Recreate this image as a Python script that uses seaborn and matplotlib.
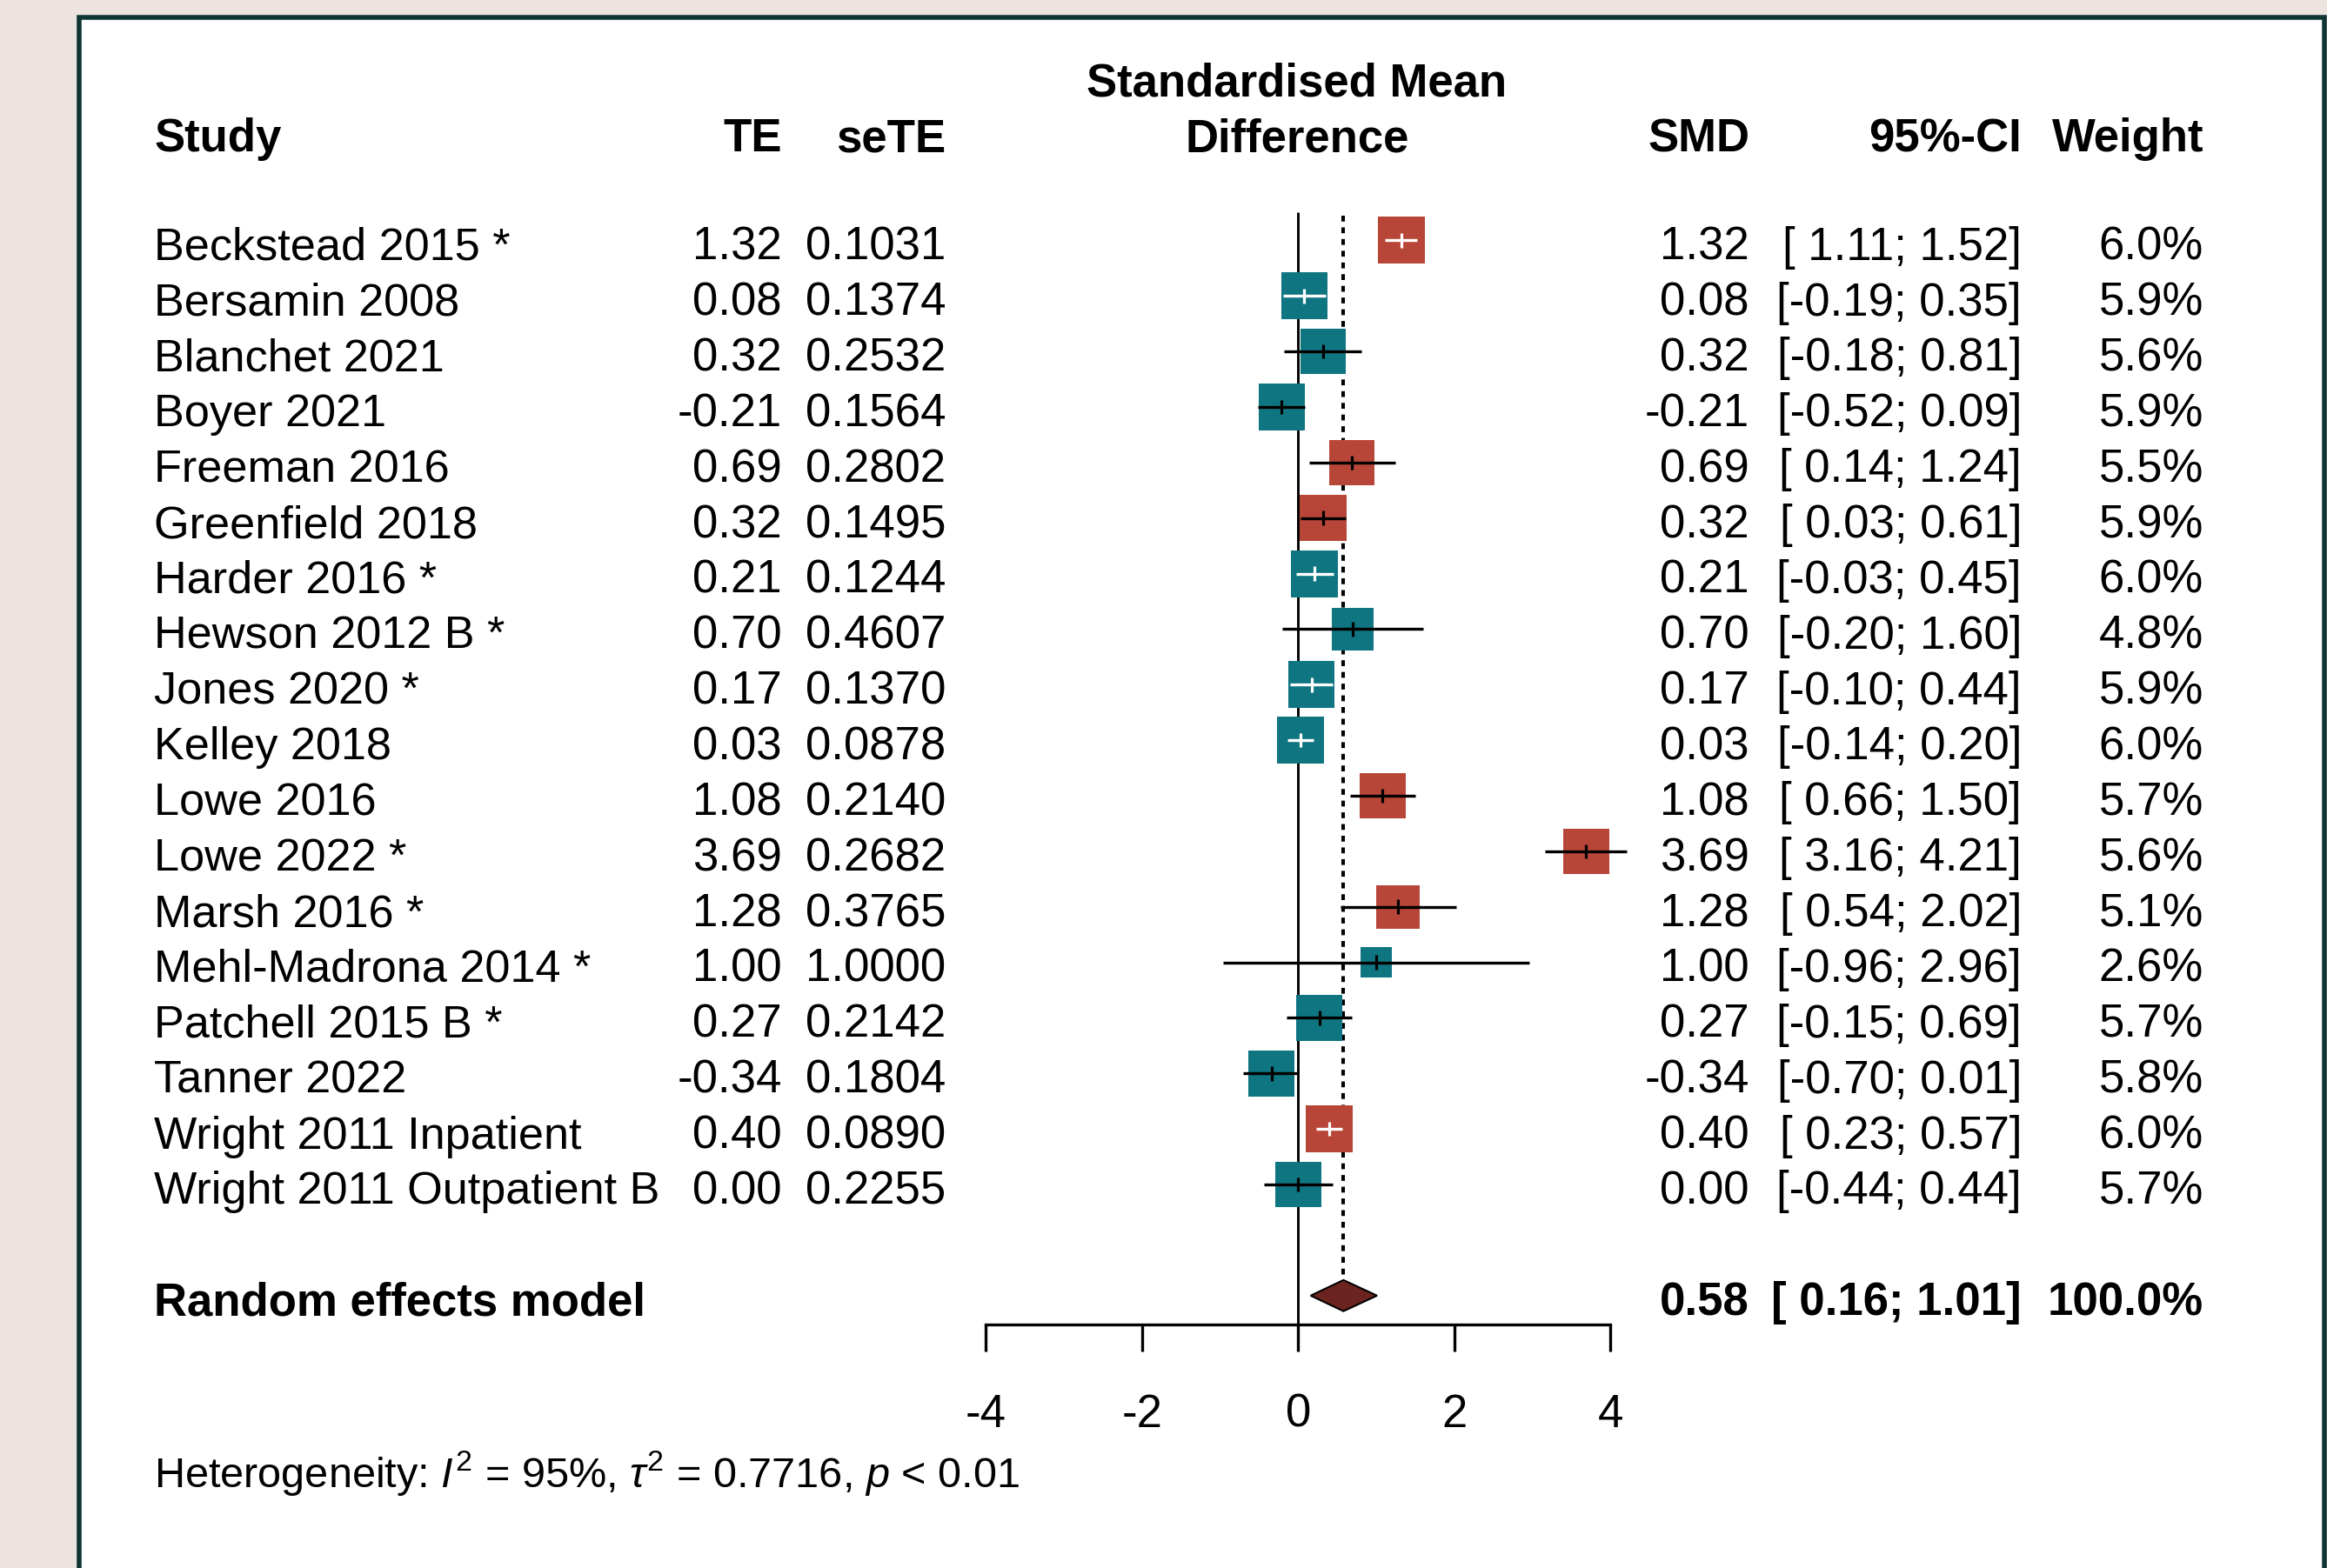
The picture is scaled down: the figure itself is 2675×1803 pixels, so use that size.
import numpy as np
import pandas as pd
import matplotlib
matplotlib.use('Agg')
import matplotlib.pyplot as plt
import matplotlib.transforms as mtransforms
from matplotlib.patches import Rectangle
import seaborn as sns

studies = ['Beckstead 2015 *', 'Bersamin 2008', 'Blanchet 2021', 'Boyer 2021',
           'Freeman 2016', 'Greenfield 2018', 'Harder 2016 *', 'Hewson 2012 B *',
           'Jones 2020 *', 'Kelley 2018', 'Lowe 2016', 'Lowe 2022 *', 'Marsh 2016 *',
           'Mehl-Madrona 2014 *', 'Patchell 2015 B *', 'Tanner 2022',
           'Wright 2011 Inpatient', 'Wright 2011 Outpatient B']
te = [1.32, 0.08, 0.32, -0.21, 0.69, 0.32, 0.21, 0.70, 0.17, 0.03, 1.08, 3.69,
      1.28, 1.00, 0.27, -0.34, 0.40, 0.00]
se_te = [0.1031, 0.1374, 0.2532, 0.1564, 0.2802, 0.1495, 0.1244, 0.4607, 0.1370,
         0.0878, 0.2140, 0.2682, 0.3765, 1.0000, 0.2142, 0.1804, 0.0890, 0.2255]
ci_low = [1.11, -0.19, -0.18, -0.52, 0.14, 0.03, -0.03, -0.20, -0.10, -0.14, 0.66,
          3.16, 0.54, -0.96, -0.15, -0.70, 0.23, -0.44]
ci_high = [1.52, 0.35, 0.81, 0.09, 1.24, 0.61, 0.45, 1.60, 0.44, 0.20, 1.50, 4.21,
           2.02, 2.96, 0.69, 0.01, 0.57, 0.44]
weight = [6.0, 5.9, 5.6, 5.9, 5.5, 5.9, 6.0, 4.8, 5.9, 6.0, 5.7, 5.6, 5.1, 2.6,
          5.7, 5.8, 6.0, 5.7]

pooled = {'est': 0.58, 'low': 0.16, 'high': 1.01, 'weight': 100.0}
het_label = r'Heterogeneity: $I^2$ = 95%, $\tau^2$ = 0.7716, $p$ < 0.01'
x_ticks = [-4, -2, 0, 2, 4]

RED = '#b84638'
TEAL = '#0f7580'
DIAMOND = '#6b241f'

sns.set_style('white')
plt.rcParams['font.family'] = ['Liberation Sans', 'DejaVu Sans']
plt.rcParams['mathtext.fontset'] = 'custom'
plt.rcParams['mathtext.rm'] = 'Liberation Sans'
plt.rcParams['mathtext.it'] = 'Liberation Sans:italic'
plt.rcParams['mathtext.bf'] = 'Liberation Sans:bold'
plt.rcParams['axes.unicode_minus'] = False

df = pd.DataFrame({'study': studies, 'te': te, 'se': se_te,
                   'lo': ci_low, 'hi': ci_high, 'w': weight})
df['row'] = np.arange(len(df))
df['group'] = np.where(df['lo'] > 0, 'sig', 'ns')

W, H = 2675, 1803
px_per_unit = 718 / 8.0      # x scale of the forest panel
row_px = 63.9                # row spacing

# box side in pixels, area proportional to weight
df['side'] = 54 * np.sqrt(df['w'] / 6.0)
half = df['side'] / 2 / px_per_unit
df['inside'] = ((df['te'] - df['lo']) < half * 0.95) & ((df['hi'] - df['te']) < half * 0.95)

fig = plt.figure(figsize=(W / 100, H / 100), dpi=100)
fig.patch.set_facecolor('#ede4df')
fig.patches.append(Rectangle((90.5 / W, -0.02), (2672 - 90.5) / W, (H - 19.5) / H + 0.02,
                             transform=fig.transFigure, facecolor='white',
                             edgecolor='#0f3535', linewidth=4, zorder=-10))

ax = fig.add_axes([1133.3 / W, (H - 1523) / H, 718 / W, 1523 / H])
ax.set_facecolor('none')

# reference lines
ax.vlines(0, -0.5, 19.52, colors='black', lw=2.1, zorder=1)
ax.vlines(pooled['est'], -0.45, 18.7, colors='black', lw=2.9,
          linestyles=(0, (1.67, 1.67)), zorder=1)

sns.scatterplot(data=df, x='te', y='row', hue='group', palette={'sig': RED, 'ns': TEAL},
                marker='s', s=(df['side'] * 0.72) ** 2, linewidth=0, legend=False,
                ax=ax, zorder=3, clip_on=False)

line_col = np.where(df['inside'], 'white', 'black')
ax.hlines(df['row'], df['lo'], df['hi'], colors=line_col, lw=2.4, zorder=4, clip_on=False)
ax.vlines(df['te'], df['row'] - 0.13, df['row'] + 0.13, colors=line_col, lw=2.3,
          zorder=4, clip_on=False)

# pooled diamond
pr = 19
ax.fill([pooled['low'], pooled['est'], pooled['high'], pooled['est']],
        [pr, pr - 0.28, pr, pr + 0.28], facecolor=DIAMOND, edgecolor='black',
        lw=1.5, zorder=5, clip_on=False)

ax.set_xlim(-4, 4)
ax.set_ylim(19.52, -276.5 / row_px)
ax.set_xlabel('')
ax.set_ylabel('')
ax.set_yticks([])
ax.set_xticks(x_ticks)
ax.set_xticklabels([str(t) for t in x_ticks])
for side in ['top', 'left', 'right']:
    ax.spines[side].set_visible(False)
ax.spines['bottom'].set_bounds(-4, 4)
ax.spines['bottom'].set_linewidth(2.4)
ax.spines['bottom'].set_color('black')
ax.tick_params(axis='x', direction='out', length=22.3, width=2.4, pad=34.5,
               labelsize=38, colors='black', bottom=True)

tf = mtransforms.blended_transform_factory(fig.transFigure, ax.transData)


def put(xpx, row, s, ha='right', bold=False, size=38):
    ax.text(xpx / W, row + 0.35, s, transform=tf, ha=ha, va='baseline',
            fontsize=size, fontweight='bold' if bold else 'normal', color='black')


# column headers
put(177, -1.95, 'Study', ha='left', bold=True)
put(899, -1.95, 'TE', bold=True)
put(1087, -1.95, 'seTE', bold=True)
put(1491, -2.95, 'Standardised Mean', ha='center', bold=True)
put(1491, -1.95, 'Difference', ha='center', bold=True)
put(2011, -1.95, 'SMD', bold=True)
put(2324, -1.95, '95%-CI', bold=True)
put(2533, -1.95, 'Weight', bold=True)

for r in df.itertuples():
    put(177, r.row, r.study, ha='left', size=37.6)
    put(899, r.row, f'{r.te:.2f}')
    put(1087, r.row, f'{r.se:.4f}')
    put(2011, r.row, f'{r.te:.2f}')
    put(2324, r.row, f'[{r.lo:5.2f}; {r.hi:4.2f}]')
    put(2533, r.row, f'{r.w:.1f}%')

put(177, pr, 'Random effects model', ha='left', bold=True)
put(2011, pr, f"{pooled['est']:.2f}", bold=True)
put(2324, pr, f"[{pooled['low']:5.2f}; {pooled['high']:4.2f}]", bold=True)
put(2533, pr, f"{pooled['weight']:.1f}%", bold=True)

ax.text(177 / W, 22.45, het_label, transform=tf, ha='left', va='baseline',
        fontsize=35, color='black')

fig.savefig('out.png', dpi=100, facecolor=fig.get_facecolor())
